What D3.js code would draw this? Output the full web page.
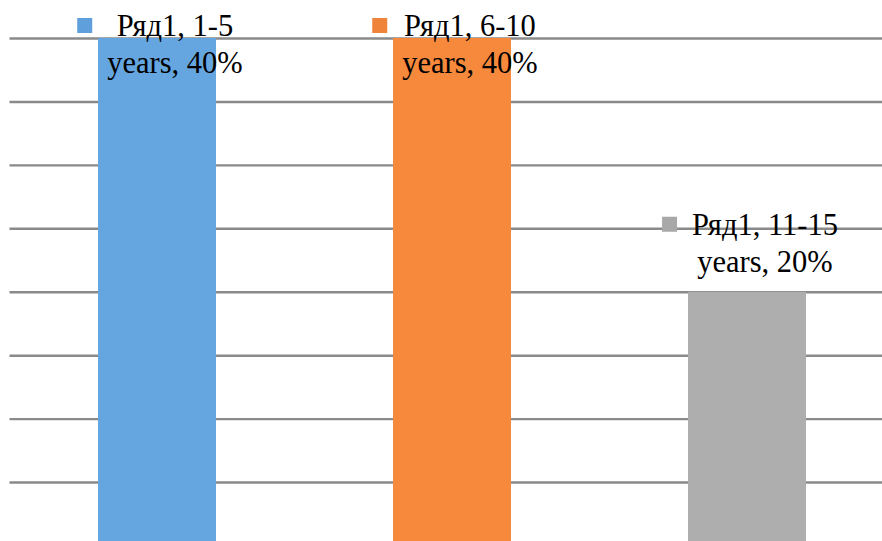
<!DOCTYPE html>
<html>
<head>
<meta charset="utf-8">
<script src="https://cdn.jsdelivr.net/npm/d3@7"></script>
<style>
  html, body { margin: 0; padding: 0; background: #fff; }
  svg { display: block; }
</style>
</head>
<body>
<svg id="chart" width="882" height="541"></svg>
<script>
// ---- data ----
const seriesName = "Ряд1";
const categories = ["1-5 years", "6-10 years", "11-15 years"];
const values = [0.40, 0.40, 0.20];
const barColors = ["#65A6E0", "#F6893B", "#AEAEAE"];
const keyColors = ["#5F9FDB", "#F0833A", "#A8A8A8"];
const yTicks = [0, 0.05, 0.10, 0.15, 0.20, 0.25, 0.30, 0.35, 0.40];

// ---- layout ----
const svg = d3.select("#chart");
const plot = { left: 9.5, right: 894.5, top: 38, bottom: 545.5 };
const fontSize = 30.5;
const lineGap = 37;

const x = d3.scaleBand()
  .domain(categories)
  .range([plot.left, plot.right])
  .paddingInner(0.6)
  .paddingOuter(0.3);

const y = d3.scaleLinear()
  .domain([0, 0.4])
  .range([plot.bottom, plot.top]);

// gridlines
const grid = svg.append("g")
  .attr("transform", `translate(${plot.left},0)`)
  .call(d3.axisLeft(y).tickValues(yTicks).tickSize(-(plot.right - plot.left)).tickFormat(""));
grid.select(".domain").remove();
grid.selectAll(".tick line").attr("stroke", "#8a8a8a").attr("stroke-width", 2.4);
grid.selectAll(".tick text").remove();

// bars
svg.append("g").selectAll("rect")
  .data(categories)
  .join("rect")
  .attr("x", d => x(d))
  .attr("y", (d, i) => y(values[i]))
  .attr("width", x.bandwidth())
  .attr("height", (d, i) => y(0) - y(values[i]))
  .attr("fill", (d, i) => barColors[i]);

// data labels
const fmt = d3.format(".0%");
categories.forEach((cat, i) => {
  const parts = cat.split(" ");
  const line1 = `${seriesName}, ${parts[0]}`;
  const line2 = `${parts.slice(1).join(" ")}, ${fmt(values[i])}`;
  const cx = x(cat) + x.bandwidth() / 2;
  const base2 = Math.max(y(values[i]) - 20, y(0.4) + 35);
  const base1 = base2 - lineGap;
  const g = svg.append("g");
  const textCx = cx + 18;
  const t1 = g.append("text").attr("x", textCx).attr("y", base1).text(line1);
  const t2 = g.append("text").attr("x", textCx).attr("y", base2).text(line2);
  g.selectAll("text")
    .attr("text-anchor", "middle")
    .attr("font-family", "'Liberation Serif', 'Times New Roman', serif")
    .attr("font-size", fontSize)
    .attr("fill", "#000");
  const w = Math.max(t1.node().getComputedTextLength(), t2.node().getComputedTextLength());
  const boxLeft = textCx - w / 2;
  g.append("rect")
    .attr("x", boxLeft - 15 - 15)
    .attr("y", base1 - 10.5 - 7.5)
    .attr("width", 15)
    .attr("height", 15)
    .attr("fill", keyColors[i]);
});
</script>
</body>
</html>
